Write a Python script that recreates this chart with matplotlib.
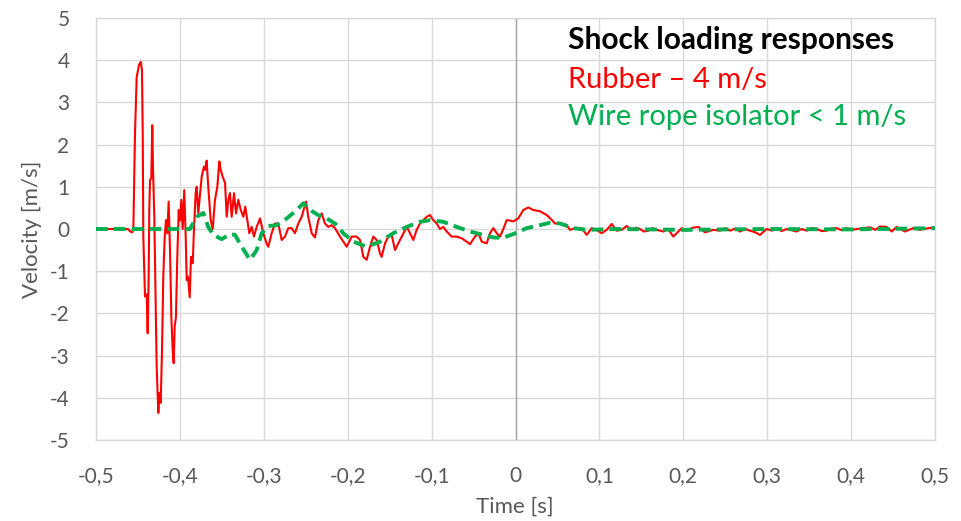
import matplotlib
matplotlib.use("Agg")
import matplotlib.pyplot as plt
from matplotlib.ticker import FuncFormatter

# Rubber mount response
rubber_t = [-0.500, -0.480, -0.462, -0.459, -0.457, -0.4555, -0.4535, -0.4515, -0.4487, -0.4467,
            -0.4452, -0.4443, -0.4436, -0.4416, -0.4396, -0.4384, -0.4372, -0.4365, -0.4356, -0.4341,
            -0.4329, -0.4321, -0.4305, -0.4293, -0.4277, -0.4257, -0.4246, -0.4229, -0.4213, -0.4198,
            -0.4181, -0.4166, -0.4150, -0.4134, -0.4118, -0.4102, -0.4086, -0.4074, -0.4062, -0.4047,
            -0.4031, -0.4014, -0.3999, -0.3983, -0.3967, -0.3948, -0.3931, -0.3919, -0.3903, -0.3883,
            -0.3868, -0.3847, -0.3832, -0.3812, -0.3800, -0.3781, -0.3740, -0.3713, -0.3697, -0.3681,
            -0.3662, -0.3633, -0.3609, -0.3582, -0.3554, -0.3530, -0.3514, -0.3490, -0.3462, -0.3442,
            -0.3423, -0.3403, -0.3383, -0.3355, -0.3331, -0.3304, -0.3275, -0.3244, -0.3221, -0.3197,
            -0.3173, -0.3144, -0.3117, -0.3085, -0.3045, -0.3006, -0.2965, -0.2946, -0.2906, -0.2867,
            -0.2827, -0.2787, -0.2747, -0.2708, -0.2668, -0.2628, -0.2589, -0.2548, -0.2497, -0.2470,
            -0.2429, -0.2390, -0.2350, -0.2310, -0.2271, -0.2231, -0.2191, -0.2151, -0.2092, -0.2052,
            -0.2012, -0.1952, -0.1893, -0.1853, -0.1814, -0.1774, -0.1734, -0.1695, -0.1654, -0.1615,
            -0.1595, -0.1555, -0.1516, -0.1476, -0.1436, -0.1397, -0.1356, -0.1297, -0.1257, -0.1218,
            -0.1178, -0.1138, -0.1099, -0.1058, -0.1019, -0.0980, -0.0939, -0.0900, -0.0860, -0.0820,
            -0.0760, -0.0702, -0.0641, -0.0582, -0.0542, -0.0483, -0.0443, -0.0403, -0.0343, -0.0304,
            -0.0264, -0.0224, -0.0185, -0.0145, -0.0105, -0.0066, -0.0026, 0.0033, 0.0093, 0.0153,
            0.0212, 0.0292, 0.0372, 0.0431, 0.0471, 0.0551, 0.0610, 0.0650, 0.0709, 0.0789,
            0.0849, 0.0908, 0.0968, 0.1027, 0.1087, 0.1147, 0.1206, 0.1266, 0.1325, 0.1385,
            0.1440, 0.1484, 0.1530, 0.1583, 0.1630, 0.1683, 0.1762, 0.1820, 0.1881, 0.1981,
            0.2040, 0.2110, 0.2179, 0.2259, 0.2358, 0.2437, 0.2500, 0.2557, 0.2620, 0.2676,
            0.2740, 0.2795, 0.2860, 0.2914, 0.2994, 0.3060, 0.3113, 0.3170, 0.3232, 0.3290,
            0.3351, 0.3410, 0.3471, 0.3530, 0.3590, 0.3650, 0.3709, 0.3770, 0.3828, 0.3890,
            0.3948, 0.4010, 0.4067, 0.4146, 0.4225, 0.4290, 0.4344, 0.4424, 0.4484, 0.4543,
            0.4642, 0.4741, 0.4821, 0.4920, 0.5000]
rubber_v = [0.00, 0.00, 0.00, -0.06, -0.08, -0.02, 2.27, 3.60, 3.89, 3.96,
            3.77, 2.27, -0.18, -1.60, -1.55, -2.47, -1.10, 0.45, 1.16, 1.20,
            2.46, 1.48, 0.29, -1.28, -3.26, -4.36, -3.89, -4.12, -2.87, -1.13,
            -0.18, 0.21, -0.10, 0.65, -0.50, -2.08, -2.87, -3.18, -2.31, -2.08,
            -0.66, 0.45, 0.20, 0.69, 0.00, 0.92, -0.18, -1.21, -1.13, -1.62,
            -0.66, -0.81, 0.00, 0.85, 1.00, 0.38, 1.24, 1.48, 1.40, 1.62,
            1.00, 0.21, 0.00, 0.69, 1.00, 1.60, 1.40, 1.24, 1.09, 0.29,
            0.69, 0.85, 0.29, 0.85, 0.37, 0.69, 0.45, 0.29, 0.53, 0.21,
            -0.10, 0.05, -0.18, 0.05, 0.25, -0.10, -0.35, -0.42, -0.10, 0.13,
            0.13, -0.26, -0.18, 0.02, 0.02, -0.10, 0.13, 0.29, 0.65, 0.29,
            -0.10, -0.20, 0.21, 0.37, 0.13, 0.05, 0.09, 0.02, -0.18, -0.30,
            -0.42, -0.18, -0.18, -0.26, -0.66, -0.73, -0.42, -0.18, -0.26, -0.58,
            -0.66, -0.34, -0.18, -0.14, -0.50, -0.34, -0.18, 0.05, -0.10, -0.26,
            -0.02, 0.13, 0.21, 0.29, 0.33, 0.21, 0.13, 0.00, 0.05, -0.06,
            -0.18, -0.18, -0.22, -0.30, -0.36, -0.18, -0.10, -0.30, -0.34, -0.10,
            0.02, -0.10, -0.18, 0.00, 0.21, 0.20, 0.18, 0.25, 0.45, 0.51,
            0.45, 0.42, 0.33, 0.22, 0.13, 0.13, 0.09, -0.02, 0.02, 0.02,
            -0.14, 0.02, -0.02, -0.10, -0.02, 0.12, -0.04, -0.02, 0.07, -0.02,
            0.03, 0.00, -0.06, -0.04, 0.02, -0.02, -0.06, 0.00, -0.18, 0.02,
            -0.04, 0.03, 0.05, -0.08, -0.02, -0.04, 0.02, -0.04, 0.01, -0.06,
            0.00, -0.04, -0.08, -0.14, 0.00, -0.04, 0.02, -0.05, 0.00, -0.03,
            -0.06, 0.00, -0.04, 0.02, 0.00, -0.05, -0.04, 0.01, 0.02, -0.03,
            0.02, -0.02, 0.00, 0.02, 0.04, -0.02, 0.06, 0.05, -0.06, 0.05,
            -0.06, 0.02, -0.02, 0.02, 0.04]

# Wire rope isolator response
wire_t = [-0.500, -0.388, -0.380, -0.3721, -0.3662, -0.3602, -0.3502, -0.3403, -0.3343, -0.3263,
          -0.3164, -0.3085, -0.3025, -0.2950, -0.2846, -0.2727, -0.2608, -0.2529, -0.2449, -0.2350,
          -0.2250, -0.2151, -0.2052, -0.1933, -0.1774, -0.1615, -0.1456, -0.1297, -0.1138, -0.1019,
          -0.0860, -0.0702, -0.0542, -0.0384, -0.0265, -0.0149, -0.0026, 0.0133, 0.0292, 0.0411,
          0.0530, 0.0689, 0.0849, 0.120, 0.200, 0.300, 0.400, 0.500]
wire_v = [0.00, 0.00, 0.29, 0.38, 0.05, -0.14, -0.24, -0.12, -0.14, -0.42,
          -0.73, -0.50, -0.10, 0.07, 0.09, 0.25, 0.45, 0.61, 0.45, 0.33,
          0.25, 0.13, -0.10, -0.30, -0.42, -0.30, -0.10, 0.05, 0.17, 0.21,
          0.17, 0.05, -0.06, -0.14, -0.20, -0.21, -0.12, 0.02, 0.09, 0.15,
          0.13, 0.02, -0.02, 0.00, -0.02, 0.00, -0.01, 0.02]

x_ticks = [-0.5, -0.4, -0.3, -0.2, -0.1, 0, 0.1, 0.2, 0.3, 0.4, 0.5]
y_ticks = [-5, -4, -3, -2, -1, 0, 1, 2, 3, 4, 5]

plt.rcParams['font.family'] = ['Lato', 'DejaVu Sans']

fig = plt.figure(figsize=(9.62, 5.21), dpi=100)
ax = fig.add_axes([96 / 962, 1 - 440 / 521, 839 / 962, 422 / 521])

ax.plot(rubber_t, rubber_v, color='#FF0000', linewidth=1.5, zorder=3)
ax.plot(wire_t, wire_v, color='#00B050', linewidth=2.8, linestyle=(0, (3, 1.6)), zorder=4)

ax.set_xlim(-0.5, 0.5)
ax.set_ylim(-5, 5)
ax.set_xticks(x_ticks)
ax.set_yticks(y_ticks)
ax.xaxis.set_major_formatter(FuncFormatter(lambda v, p: ('%g' % round(v, 1)).replace('.', ',')))
ax.yaxis.set_major_formatter(FuncFormatter(lambda v, p: '%d' % v))
ax.tick_params(length=0, labelsize=15, colors='#595959')
ax.tick_params(axis='x', pad=19)
ax.tick_params(axis='y', pad=19)
ax.grid(True, color='#D9D9D9', linewidth=1)
ax.axvline(0, color='#A6A6A6', linewidth=1, zorder=2)
for s in ax.spines.values():
    s.set_color('#D9D9D9')
    s.set_linewidth(1)

fig.text(515 / 962, 1 - 507 / 521, 'Time [s]', ha='center', va='center', fontsize=16, color='#595959')
fig.text(32 / 962, 1 - 229 / 521, 'Velocity [m/s]', ha='center', va='center', rotation=90,
         fontsize=16, color='#595959')

fig.text(568 / 962, 1 - 49 / 521, 'Shock loading responses', fontsize=21.5, fontweight='bold',
         color='black', va='baseline')
fig.text(568 / 962, 1 - 88 / 521, 'Rubber – 4 m/s', fontsize=21, color='#FF0000', va='baseline')
fig.text(568 / 962, 1 - 125 / 521, 'Wire rope isolator < 1 m/s', fontsize=21, color='#00B050',
         va='baseline')

fig.savefig('out.png', dpi=100)
